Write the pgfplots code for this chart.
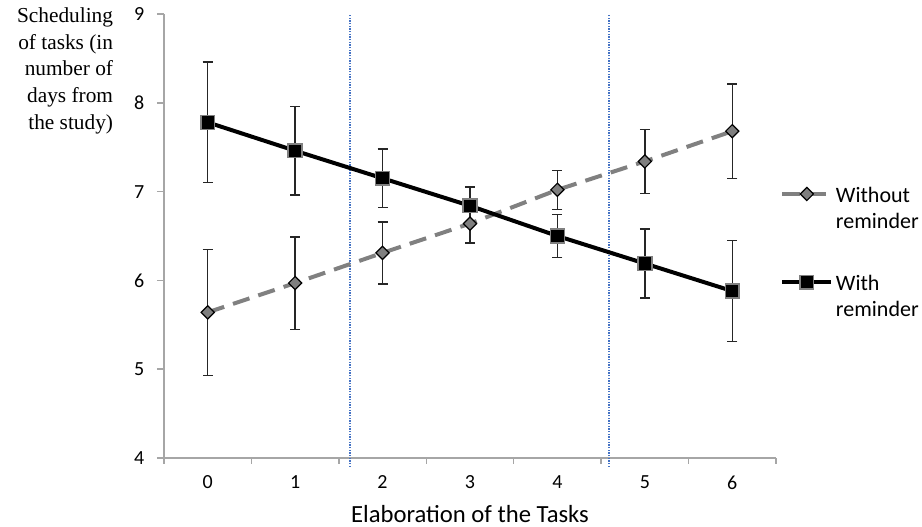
\documentclass[border=0pt]{standalone}
\usepackage{fontspec}
\setmainfont{Carlito}
\newfontfamily\timesfont{Liberation Serif}
\usepackage{pgfplots}
\usepackage{pgfplotstable}
\pgfplotsset{compat=1.18}

\definecolor{axisgray}{RGB}{166,166,166}
\definecolor{linegray}{RGB}{128,128,128}
\definecolor{markgray}{RGB}{127,127,127}
\definecolor{guideblue}{RGB}{68,114,196}

% means and error bar half-lengths
\pgfplotstableread{
x y err
0 5.64 0.71
1 5.97 0.52
2 6.31 0.35
3 6.64 0.22
4 7.02 0.22
5 7.34 0.36
6 7.68 0.53
}\without

\pgfplotstableread{
x y err
0 7.78 0.68
1 7.46 0.50
2 7.15 0.33
3 6.84 0.21
4 6.50 0.24
5 6.19 0.39
6 5.88 0.57
}\withrem

\begin{document}
\begin{tikzpicture}
\begin{axis}[
  scale only axis, width=459pt, height=333pt,
  xmin=-0.5, xmax=6.5, ymin=4, ymax=9,
  axis lines=left, axis line style={-, axisgray, line width=1.1pt},
  tick align=outside,
  xtick={0,...,6}, major x tick style={draw=none},
  minor xtick={-0.5,0.5,...,6.5}, minor tick length=4.5pt,
  ytick={4,...,9}, major tick length=5.25pt,
  tick style={axisgray, line width=1.1pt},
  /pgf/number format/assume math mode=true,
  ticklabel style={font=\fontsize{15}{18}\selectfont},
  xticklabel style={yshift=-4.5pt},
  yticklabel style={xshift=-6pt},
  xlabel={Elaboration of the Tasks},
  xlabel style={font=\fontsize{18.5}{22}\selectfont, inner sep=0pt, yshift=-8.5pt},
  clip=false,
  legend image code/.code={\draw[mark repeat=2,mark phase=2,#1] plot coordinates {(0pt,0pt)(18.4pt,0pt)(36.8pt,0pt)};},
  legend style={draw=none, fill=none, at={(rel axis cs:1.0,0.63)}, anchor=north west,
    font=\fontsize{16.5}{19.5}\selectfont, row sep=47pt},
  legend cell align=left,
]
\addplot[guideblue, line width=1pt, dash pattern=on 1pt off 1pt, forget plot] coordinates {(1.626,3.9) (1.626,9)};
\addplot[guideblue, line width=1pt, dash pattern=on 1pt off 1pt, forget plot] coordinates {(4.59,3.9) (4.59,9)};

\addplot[linegray, line width=3pt, dash pattern=on 13pt off 7pt,
  mark=square*, mark size=3.5pt,
  mark options={solid, fill=markgray, draw=black, line width=0.9pt, rotate=45},
  error bars/.cd, y dir=both, y explicit,
  error bar style={solid, line width=1.1pt, black!85},
  error mark options={rotate=90, mark size=3.75pt, line width=1.1pt, black!85}]
  table[x=x, y=y, y error=err] {\without};
\addlegendentry{\begin{tabular}[t]{@{}l@{}}Without\\reminder\end{tabular}}

\addplot[black, line width=3pt,
  mark=square*, mark size=5.2pt,
  mark options={fill=black, draw=linegray, line width=1.1pt},
  error bars/.cd, y dir=both, y explicit,
  error bar style={solid, line width=1.1pt, black!85},
  error mark options={rotate=90, mark size=3.75pt, line width=1.1pt, black!85}]
  table[x=x, y=y, y error=err] {\withrem};
\addlegendentry{\begin{tabular}[t]{@{}l@{}}With\\reminder\end{tabular}}

\node[anchor=north east, align=right, inner sep=0pt,
  font=\timesfont\fontsize{16}{20}\selectfont]
  at (rel axis cs:0,1) [xshift=-38pt, yshift=5pt]
  {Scheduling\\of tasks (in\\number of\\days from\\the study)};
\end{axis}
\pgfresetboundingbox
\useasboundingbox (-123pt,-51.75pt) rectangle (568.5pt,343.5pt);
\end{tikzpicture}
\end{document}
